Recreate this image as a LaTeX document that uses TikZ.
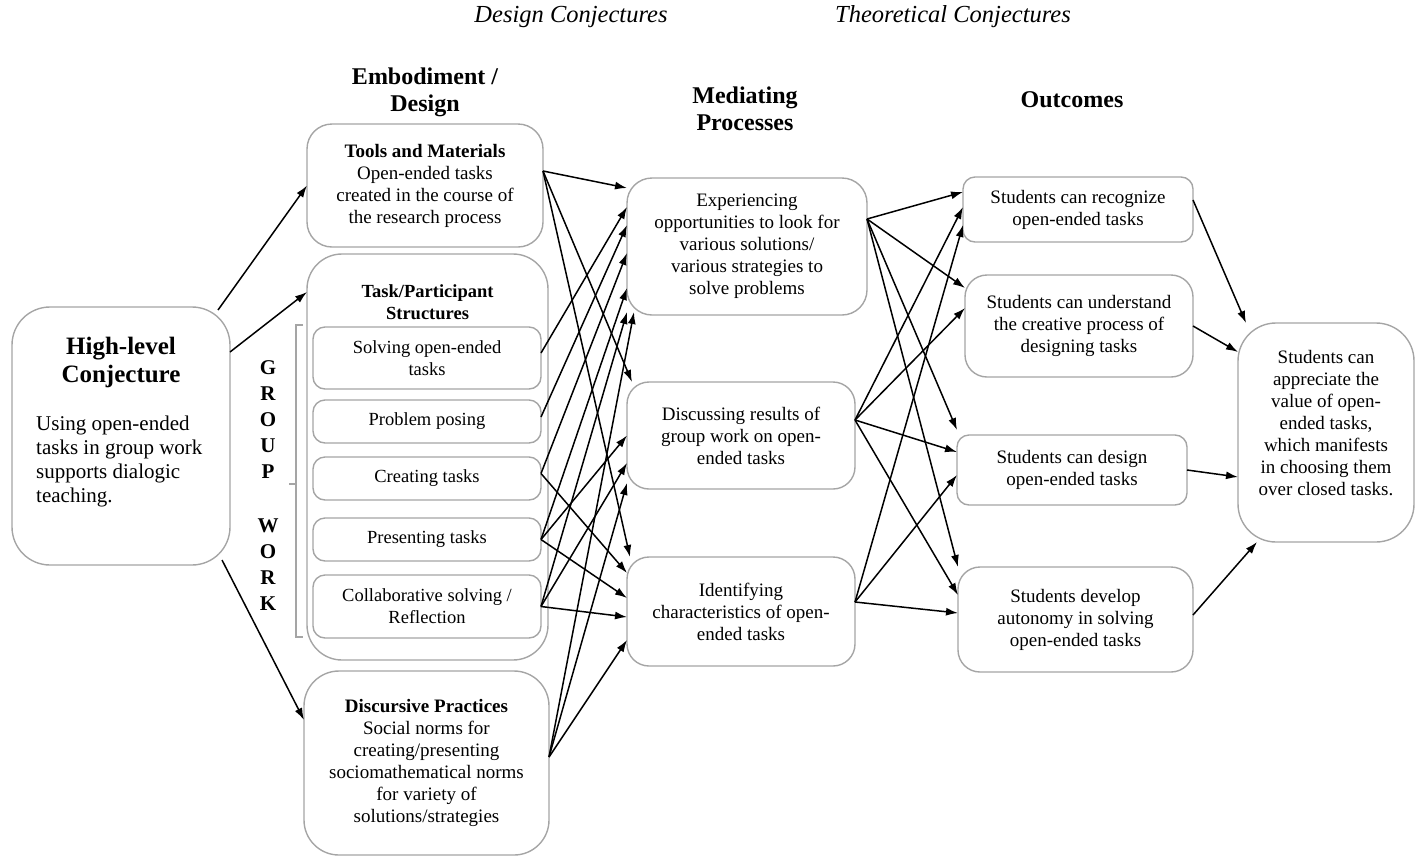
\documentclass[tikz,border=0pt]{standalone}
\usepackage{fontspec}
\setmainfont{Liberation Serif}
\usetikzlibrary{arrows.meta}

\definecolor{boxgray}{RGB}{165,165,165}

\begin{document}
\begin{tikzpicture}[x=1pt, y=-1pt,
    box/.style={draw=boxgray, line width=1.4pt, anchor=north west, align=center,
        inner sep=0pt, outer sep=0pt, rounded corners=22pt, font=\fontsize{19}{22}\selectfont},
    smallbox/.style={box, rounded corners=12pt, font=\fontsize{18.5}{22}\selectfont},
    bigbox/.style={box, rounded corners=38pt},
    head/.style={font=\fontsize{24}{27}\selectfont\bfseries, align=center},
    conj/.style={font=\fontsize{24.5}{27}\selectfont\itshape},
    letter/.style={font=\fontsize{21}{24}\selectfont\bfseries},
    link/.style={-{Latex[length=12pt,width=8pt]}, line width=1.5pt}]
        \useasboundingbox (0,0) rectangle (1415,857);

        % Column titles
        \node[conj] (dconj) at (571,17) {Design Conjectures};
        \node[conj] (tconj) at (953,17) {Theoretical Conjectures};
        \node[head] (embhead) at (425,92) {Embodiment /\\Design};
        \node[head] (medhead) at (745,109) {Mediating\\Processes};
        \node[head] (outhead) at (1072,100) {Outcomes};

        % High-level conjecture
        \node[bigbox, minimum width=218pt, minimum height=258pt] (hl) at (12,307) {};
        \node[head, font=\fontsize{25}{28}\selectfont\bfseries] (hltitle) at (121,362) {High-level\\Conjecture};
        \node[anchor=west, align=left, inner sep=0pt, font=\fontsize{21}{24}\selectfont] (hltext) at (36,461)
            {Using open-ended\\tasks in group work\\supports dialogic\\teaching.};

        % Embodiment / design column
        \node[box, rounded corners=25pt, minimum width=236pt, minimum height=123pt] (tools) at (307,124)
            {{\bfseries Tools and Materials}\\Open-ended tasks\\created in the course of\\the research process};
        \node[bigbox, rounded corners=35pt, minimum width=241pt, minimum height=406pt] (task) at (307,254) {};
        \node[font=\fontsize{18.5}{22}\selectfont\bfseries, align=center] (tasktitle) at (427.5,302)
            {Task/Participant\\Structures};
        \node[smallbox, minimum width=228pt, minimum height=62pt] (solve) at (313,327) {Solving open-ended\\tasks};
        \node[smallbox, minimum width=228pt, minimum height=43pt] (pose) at (313,400) {Problem posing};
        \node[smallbox, minimum width=228pt, minimum height=43pt] (create) at (313,457) {Creating tasks};
        \node[smallbox, minimum width=228pt, minimum height=43pt] (present) at (313,518) {Presenting tasks};
        \node[smallbox, minimum width=228pt, minimum height=63pt] (collab) at (313,575)
            {Collaborative solving /\\Reflection};
        \node[bigbox, rounded corners=35pt, minimum width=245pt, minimum height=184pt] (discur) at (304,671)
            {{\bfseries Discursive Practices}\\Social norms for\\creating/presenting\\sociomathematical norms\\for variety of\\solutions/strategies};

        % Group work bracket
        \draw[boxgray, line width=1.4pt] (303,325) -- (296,325) -- (296,637) -- (303,637);
        \draw[boxgray, line width=1.4pt] (296,484) -- (289,484);
        \foreach \l [count=\i] in {G,R,O,U,P} {
            \node[letter] (gw\i) at (268,342+26*\i) {\l};
        }
        \foreach \l [count=\i] in {W,O,R,K} {
            \node[letter] (wk\i) at (268,500+26*\i) {\l};
        }

        % Mediating processes
        \node[box, rounded corners=25pt, minimum width=240pt, minimum height=137pt] (exp) at (627,178)
            {Experiencing\\opportunities to look for\\various solutions/\\various strategies to\\solve problems};
        \node[box, minimum width=228pt, minimum height=107pt] (discuss) at (627,382)
            {Discussing results of\\group work on open-\\ended tasks};
        \node[box, minimum width=228pt, minimum height=109pt] (ident) at (627,557)
            {Identifying\\characteristics of open-\\ended tasks};

        % Outcomes
        \node[smallbox, font=\fontsize{19}{22}\selectfont, minimum width=230pt, minimum height=65pt] (recog) at (963,177)
            {Students can recognize\\open-ended tasks};
        \node[box, minimum width=228pt, minimum height=102pt] (underst) at (965,275)
            {Students can understand\\the creative process of\\designing tasks};
        \node[smallbox, font=\fontsize{19}{22}\selectfont, minimum width=230pt, minimum height=70pt] (design) at (957,435)
            {Students can design\\open-ended tasks};
        \node[box, minimum width=235pt, minimum height=105pt] (auton) at (958,567)
            {Students develop\\autonomy in solving\\open-ended tasks};
        \node[bigbox, minimum width=176pt, minimum height=219pt] (final) at (1238,323)
            {Students can\\appreciate the\\value of open-\\ended tasks,\\which manifests\\in choosing them\\over closed tasks.\\[-2pt]};

        % Draw arrows from the high-level conjecture
        \draw[link] ([xshift=-12pt,yshift=-3pt]hl.north east) -- (tools.west);
        \draw[link] ([yshift=84pt]hl.east) -- ([yshift=165pt]task.west);
        \draw[link] ([xshift=-8pt,yshift=5pt]hl.south east) -- ([yshift=43pt]discur.west);

        % Draw arrows into the mediating processes
        \draw[link] ([yshift=14.5pt]tools.east) -- ([yshift=58.5pt]exp.west);
        \draw[link] ([yshift=14.5pt]tools.east) -- ([xshift=5pt]discuss.north west);
        \draw[link] ([yshift=14.5pt]tools.east) -- ([xshift=3pt]ident.north west);
        \draw[link] ([yshift=5pt]solve.east) -- ([yshift=39.5pt]exp.west);
        \draw[link] ([yshift=4.5pt]pose.east) -- ([yshift=21.5pt]exp.west);
        \draw[link] ([yshift=5pt]create.east) -- ([yshift=-6.5pt]exp.west);
        \draw[link] ([yshift=5pt]create.east) -- ([yshift=38.5pt]ident.west);
        \draw[link] (present.east) -- ([yshift=-41.5pt]exp.west);
        \draw[link] (present.east) -- (discuss.west);
        \draw[link] (present.east) -- ([yshift=13.5pt]ident.west);
        \draw[link] (collab.east) -- ([yshift=-65.5pt]exp.west);
        \draw[link] (collab.east) -- ([yshift=-27.5pt]discuss.west);
        \draw[link] (collab.east) -- ([yshift=-5.5pt]ident.west);
        \draw[link] ([yshift=6pt]discur.east) -- ([xshift=7pt,yshift=3pt]exp.south west);
        \draw[link] ([yshift=6pt]discur.east) -- ([yshift=-47.5pt]discuss.west);
        \draw[link] ([yshift=6pt]discur.east) -- ([yshift=-28.5pt]ident.west);

        % Draw arrows into the outcomes
        \draw[link] ([yshift=27.5pt]exp.east) -- ([yshift=17.5pt]recog.west);
        \draw[link] ([yshift=27.5pt]exp.east) -- ([yshift=38pt]underst.west);
        \draw[link] ([yshift=27.5pt]exp.east) -- ([yshift=5pt]design.north west);
        \draw[link] ([yshift=27.5pt]exp.east) -- (auton.north west);
        \draw[link] ([yshift=15.5pt]discuss.east) -- ([yshift=2.5pt]recog.west);
        \draw[link] ([yshift=15.5pt]discuss.east) -- ([yshift=18pt]underst.west);
        \draw[link] ([yshift=15.5pt]discuss.east) -- ([yshift=18pt]design.west);
        \draw[link] ([yshift=15.5pt]discuss.east) -- ([yshift=24.5pt]auton.west);
        \draw[link] ([yshift=9.5pt]ident.east) -- ([yshift=-15.5pt]recog.west);
        \draw[link] ([yshift=9.5pt]ident.east) -- ([yshift=-5pt]design.west);
        \draw[link] ([yshift=9.5pt]ident.east) -- ([yshift=6.5pt]auton.west);

        % Draw arrows into the final outcome
        \draw[link] ([yshift=9.5pt]recog.east) -- ([xshift=8pt]final.north west);
        \draw[link] (underst.east) -- ([yshift=80.5pt]final.west);
        \draw[link] (design.east) -- ([yshift=-44.5pt]final.west);
        \draw[link] ([yshift=4.5pt]auton.east) -- ([xshift=19pt]final.south west);
    \end{tikzpicture}
\end{document}
